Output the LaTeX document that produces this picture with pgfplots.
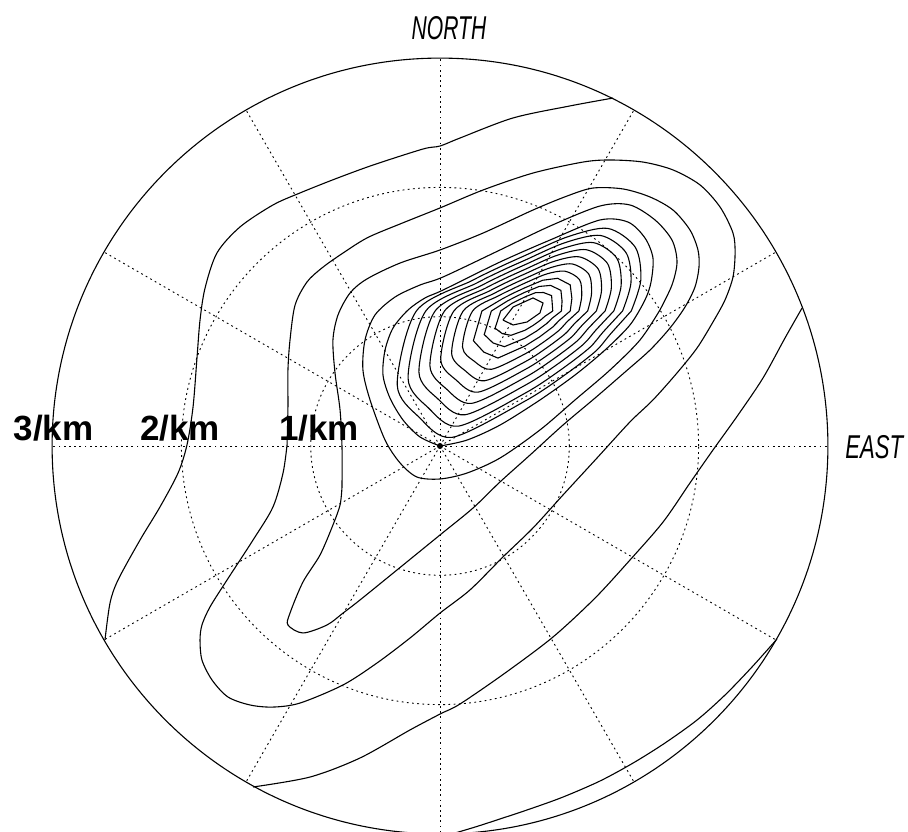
\documentclass[border=0pt]{standalone}
\usepackage{pgfplots}
\pgfplotsset{compat=1.18}
\usepackage{fontspec}
\setmainfont{Liberation Sans}
\usepackage{graphicx}
\begin{document}
\begin{tikzpicture}
\useasboundingbox (0pt,0pt) rectangle (454pt,415.5pt);
% polar grid (centre of the plot at 220pt,192.5pt; 1 per km = 64.65pt)
\begin{scope}[shift={(220pt,192.5pt)}]
  \draw[line width=0.45pt, dash pattern=on 0.9pt off 1.7pt] (0,0) circle[radius=64.65pt];
  \draw[line width=0.45pt, dash pattern=on 0.9pt off 1.7pt] (0,0) circle[radius=129.3pt];
  \foreach \a in {0,30,...,330}{
    \draw[line width=0.45pt, dash pattern=on 0.9pt off 1.7pt] (0,0) -- (\a:193.95pt);
  }
  \draw[line width=0.55pt] (0,0) circle[radius=193.95pt];
\end{scope}
\begin{axis}[
  x=64.65pt, y=64.65pt,
  xmin=-3, xmax=3, ymin=-3, ymax=3,
  hide axis, clip=false,
  anchor=center, at={(220pt,192.5pt)},
  cycle list={{black, solid, mark=none}},
  every axis plot/.append style={black, line width=0.55pt, mark=none},
]
% open contours
\addplot[smooth] coordinates {(1.338,2.691) (1.005,2.630) (0.565,2.537) (0.155,2.382) (0,2.320) (-0.131,2.297) (-0.518,2.173) (-0.812,2.065) (-1.083,1.957) (-1.292,1.864) (-1.547,1.694) (-1.725,1.493) (-1.817,1.222) (-1.856,0.974) (-1.879,0.688) (-1.910,0.302) (-1.957,0.008) (-2.026,-0.209) (-2.166,-0.472) (-2.320,-0.727) (-2.490,-1.036) (-2.552,-1.214) (-2.591,-1.500)};
\addplot[smooth] coordinates {(2.800,1.067) (2.668,0.835) (2.498,0.526) (2.305,0.240) (2.111,-0.031) (1.933,-0.286) (1.725,-0.588) (1.469,-0.882) (1.199,-1.176) (0.874,-1.477) (0.503,-1.756) (0.155,-1.995) (0,-2.073) (-0.232,-2.196) (-0.619,-2.413) (-1.005,-2.560) (-1.446,-2.637)};
\addplot[smooth] coordinates {(2.606,-1.493) (2.413,-1.709) (2.204,-1.926) (1.988,-2.119) (1.740,-2.297) (1.493,-2.452) (1.237,-2.591) (0.951,-2.715) (0.696,-2.807) (0.441,-2.892) (0.271,-2.947) (0.116,-2.993)};
% B
\addplot[smooth] coordinates {(-1.183,0.008) (-1.176,0.302) (-1.176,0.588) (-1.160,0.820) (-1.121,1.090) (-1.029,1.268) (-0.913,1.377) (-0.773,1.477) (-0.565,1.609) (-0.309,1.717) (0,1.841) (0.333,1.980) (0.719,2.111) (1.106,2.196) (1.315,2.212) (1.570,2.196) (1.802,2.135) (2.011,2.019) (2.166,1.848) (2.266,1.647) (2.282,1.493) (2.266,1.307) (2.204,1.129) (2.111,0.959) (1.988,0.758) (1.833,0.565) (1.647,0.356) (1.469,0.186) (1.214,-0.093) (0.951,-0.379) (0.719,-0.634) (0.487,-0.858) (0.232,-1.113) (0,-1.292) (-0.232,-1.485) (-0.487,-1.678) (-0.750,-1.848) (-1.083,-1.988) (-1.292,-2.019) (-1.469,-2.003) (-1.640,-1.941) (-1.763,-1.810) (-1.841,-1.655) (-1.856,-1.500) (-1.841,-1.384) (-1.779,-1.245) (-1.647,-1.036) (-1.446,-0.727) (-1.292,-0.472) (-1.214,-0.209) (-1.183,0.008)};
% C
\addplot[smooth] coordinates {(-0.758,-0.317) (-0.758,-0.008) (-0.773,0.278) (-0.812,0.565) (-0.828,0.820) (-0.789,1.013) (-0.696,1.183) (-0.565,1.292) (-0.309,1.415) (0,1.516) (0.333,1.647) (0.719,1.825) (0.982,1.933) (1.183,1.995) (1.415,1.988) (1.624,1.926) (1.802,1.825) (1.933,1.671) (1.995,1.516) (2.003,1.384) (1.972,1.230) (1.895,1.075) (1.779,0.913) (1.624,0.742) (1.431,0.572) (1.199,0.371) (0.951,0.162) (0.696,-0.070) (0.464,-0.278) (0.255,-0.480) (0,-0.688) (-0.333,-0.959) (-0.619,-1.191) (-0.750,-1.292) (-0.874,-1.384) (-1.060,-1.446) (-1.176,-1.384) (-1.160,-1.292) (-1.060,-1.052) (-0.928,-0.843) (-0.828,-0.611) (-0.773,-0.456) (-0.758,-0.317)};
% D' (passes below the centre)
\addplot[smooth] coordinates {(1.701,1.052) (1.547,0.820) (1.315,0.588) (1.044,0.356) (0.773,0.124) (0.464,-0.093) (0.209,-0.209) (0,-0.255) (-0.178,-0.240) (-0.309,-0.131) (-0.425,0.046) (-0.541,0.356) (-0.596,0.588) (-0.580,0.820) (-0.503,1.013) (-0.348,1.152) (-0.155,1.245) (0.023,1.307) (0.464,1.516) (0.851,1.701) (1.237,1.856) (1.469,1.864) (1.663,1.748) (1.794,1.593) (1.833,1.423) (1.794,1.245) (1.701,1.052)};
% D (through the centre)
\addplot[smooth] coordinates {(0,0) (-0.155,0.070) (-0.286,0.201) (-0.387,0.371) (-0.441,0.549) (-0.425,0.742) (-0.363,0.913) (-0.247,1.052) (-0.116,1.145) (0.023,1.206) (0.464,1.423) (0.851,1.593) (1.237,1.748) (1.454,1.732) (1.585,1.609) (1.647,1.454) (1.632,1.268) (1.585,1.129) (1.469,0.936) (1.276,0.742) (1.044,0.549) (0.773,0.356) (0.464,0.162) (0.209,0.046) (0,0)};
% inner rings
\addplot[smooth] coordinates {(1.479,1.044) (1.553,1.284) (1.511,1.536) (1.297,1.683) (0.990,1.619) (0.657,1.473) (0.461,1.384) (0.249,1.280) (-0.183,1.044) (-0.331,0.474) (-0.163,0.224) (0.094,0.067) (0.657,0.347) (0.949,0.538) (1.200,0.730) (1.319,0.867) (1.479,1.044)};
\addplot[smooth] coordinates {(1.412,1.044) (1.477,1.264) (1.439,1.495) (1.242,1.628) (0.962,1.571) (0.657,1.437) (0.477,1.356) (0.283,1.260) (-0.110,1.044) (-0.247,0.523) (-0.091,0.296) (0.144,0.154) (0.657,0.408) (0.924,0.582) (1.153,0.757) (1.262,0.882) (1.412,1.044)};
\addplot[smooth] coordinates {(1.344,1.044) (1.401,1.243) (1.367,1.453) (1.186,1.573) (0.934,1.523) (0.657,1.402) (0.493,1.327) (0.318,1.240) (-0.038,1.044) (-0.163,0.571) (-0.019,0.367) (0.195,0.242) (0.657,0.469) (0.899,0.626) (1.106,0.784) (1.206,0.897) (1.344,1.044)};
\addplot[smooth] coordinates {(1.277,1.044) (1.325,1.223) (1.295,1.412) (1.131,1.518) (0.906,1.475) (0.657,1.366) (0.510,1.299) (0.352,1.221) (0.035,1.044) (-0.078,0.620) (0.052,0.439) (0.246,0.330) (0.657,0.530) (0.873,0.670) (1.059,0.811) (1.149,0.912) (1.277,1.044)};
\addplot[smooth] coordinates {(1.209,1.044) (1.249,1.203) (1.223,1.370) (1.076,1.463) (0.878,1.427) (0.657,1.331) (0.526,1.271) (0.386,1.201) (0.107,1.044) (0.006,0.668) (0.124,0.511) (0.296,0.417) (0.657,0.591) (0.848,0.714) (1.012,0.838) (1.093,0.927) (1.209,1.044)};
\addplot[smooth] coordinates {(1.142,1.044) (1.172,1.182) (1.151,1.329) (1.021,1.408) (0.851,1.378) (0.657,1.295) (0.543,1.243) (0.420,1.181) (0.179,1.044) (0.090,0.717) (0.195,0.582) (0.347,0.505) (0.657,0.651) (0.823,0.758) (0.966,0.866) (1.037,0.943) (1.142,1.044)};
\addplot[smooth] coordinates {(1.074,1.044) (1.096,1.162) (1.079,1.287) (0.966,1.352) (0.823,1.330) (0.657,1.260) (0.559,1.214) (0.454,1.162) (0.252,1.044) (0.174,0.765) (0.267,0.654) (0.397,0.593) (0.657,0.712) (0.797,0.801) (0.919,0.893) (0.980,0.958) (1.074,1.044)};
\addplot[sharp plot] coordinates {(1.007,1.044) (1.020,1.141) (1.007,1.246) (0.910,1.297) (0.795,1.282) (0.657,1.224) (0.575,1.186) (0.488,1.142) (0.324,1.044) (0.258,0.814) (0.339,0.726) (0.448,0.680) (0.657,0.773) (0.772,0.845) (0.872,0.920) (0.924,0.973) (1.007,1.044)};
\addplot[sharp plot] coordinates {(0.939,1.044) (0.944,1.121) (0.935,1.204) (0.855,1.242) (0.767,1.234) (0.657,1.189) (0.592,1.158) (0.522,1.122) (0.397,1.044) (0.342,0.862) (0.410,0.797) (0.498,0.768) (0.657,0.834) (0.747,0.889) (0.825,0.947) (0.867,0.988) (0.939,1.044)};
\addplot[sharp plot] coordinates {(0.872,1.044) (0.868,1.100) (0.863,1.163) (0.800,1.187) (0.739,1.186) (0.657,1.153) (0.608,1.129) (0.556,1.103) (0.469,1.044) (0.426,0.911) (0.482,0.869) (0.549,0.856) (0.657,0.895) (0.721,0.933) (0.778,0.974) (0.811,1.003) (0.872,1.044)};
\addplot[sharp plot] coordinates {(0.487,0.974) (0.565,1.075) (0.719,1.145) (0.797,1.106) (0.773,1.029) (0.673,0.959) (0.565,0.936) (0.487,0.974)};
% centre dot
\addplot[only marks, mark=*, mark size=1.2pt] coordinates {(0,0)};
\end{axis}
% labels
\node[anchor=base, inner sep=0pt, font=\fontsize{17.5}{20}\selectfont\bfseries] at (26.75pt,195.5pt) {3/km};
\node[anchor=base, inner sep=0pt, font=\fontsize{17.5}{20}\selectfont\bfseries] at (90pt,195.5pt) {2/km};
\node[anchor=base, inner sep=0pt, font=\fontsize{17.5}{20}\selectfont\bfseries] at (159.5pt,195.5pt) {1/km};
\node[anchor=base, inner sep=0pt, font=\fontsize{16.5}{18}\selectfont\itshape] at (224.5pt,395.5pt) {\scalebox{0.64}[1]{NORTH}};
\node[anchor=base west, inner sep=0pt, font=\fontsize{16.5}{18}\selectfont\itshape] at (422.5pt,186.5pt) {\scalebox{0.67}[1]{EAST}};
\end{tikzpicture}
\end{document}
